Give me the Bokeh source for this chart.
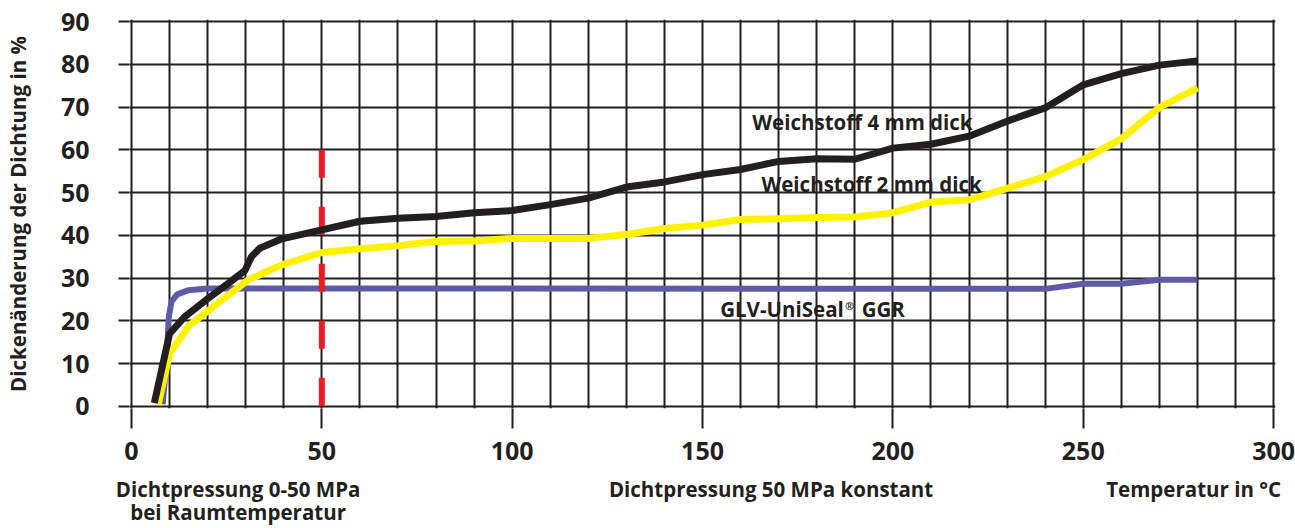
from bokeh.plotting import figure
from bokeh.models import Range1d, FixedTicker, SingleIntervalTicker, LinearAxis, Grid
from bokeh.core.properties import value
from bokeh.embed import file_html
from bokeh.resources import INLINE

# ---- data ----
black_x = [6, 10, 14, 20, 25, 29.8, 31.5, 33.7, 39.5, 50, 60, 70, 80, 90, 100, 110, 120, 130, 140, 150,
           160, 170, 180, 190, 200, 210, 220, 230, 240, 250, 260, 270, 280]
black_y = [0.8, 17, 21, 25.2, 28.5, 31.8, 35, 37, 39.2, 41.3, 43.3, 44, 44.4, 45.3, 45.8, 47.2, 48.7, 51.3, 52.5, 54.2,
           55.4, 57.3, 57.9, 57.8, 60.4, 61.3, 63.2, 66.7, 69.8, 75.2, 77.8, 79.8, 80.8]

yellow_x = [7, 10, 15, 22.7, 30.7, 39.5, 50, 60, 70, 80, 90, 100, 120, 130, 140, 150, 160, 170, 180, 190,
            200, 210, 220, 230, 240, 250, 260, 270, 280]
yellow_y = [0.4, 12.3, 18.8, 24.2, 29.6, 33.1, 36, 36.9, 37.6, 38.6, 38.7, 39.3, 39.3, 40.2, 41.6, 42.4, 43.7, 43.9, 44.2, 44.3,
            45.3, 47.8, 48.3, 51, 53.7, 57.7, 62.6, 69.9, 74.5]

blue_x = [8.2, 9.3, 9.8, 10.5, 12, 15, 20, 240, 250, 260, 270, 280]
blue_y = [0.5, 12, 21, 24.5, 26.2, 27.2, 27.6, 27.5, 28.7, 28.7, 29.6, 29.6]

red_x = [50, 50]
red_y = [60, 0]

x_ticks = [0, 50, 100, 150, 200, 250, 300]
y_ticks = [0, 10, 20, 30, 40, 50, 60, 70, 80, 90]

bottom_pos = [28, 168, 279]
bottom_line1 = ["Dichtpressung 0-50 MPa", "Dichtpressung 50 MPa konstant", "Temperatur in °C"]
bottom_line2 = ["bei Raumtemperatur"]

y_title = "Dickenänderung der Dichtung in %"

DARK = "#231f20"
FONT = "Open Sans"
TXT = "20.5px"

p = figure(width=1295, height=528,
           x_range=Range1d(-0.52, 300.5), y_range=Range1d(-0.47, 90.47),
           x_axis_type=None, y_axis_type=None,
           output_backend="svg", toolbar_location=None,
           min_border_left=128, min_border_right=20, min_border_top=19, min_border_bottom=118)
p.outline_line_color = None
p.background_fill_color = "white"
p.border_fill_color = "white"

# grids
xg = Grid(dimension=0, ticker=SingleIntervalTicker(interval=10), grid_line_color=DARK, grid_line_width=2)
yg = Grid(dimension=1, ticker=SingleIntervalTicker(interval=10), grid_line_color=DARK, grid_line_width=2)
p.add_layout(xg)
p.add_layout(yg)

# y axis
ya = LinearAxis(ticker=FixedTicker(ticks=y_ticks), axis_line_color=None,
                major_tick_out=11, major_tick_in=0, major_tick_line_color=DARK, major_tick_line_width=2,
                minor_tick_line_color=None, major_label_standoff=29,
                major_label_text_font=FONT, major_label_text_font_style="bold",
                major_label_text_font_size="25px", major_label_text_color=DARK,
                axis_label=y_title, axis_label_text_font=FONT, axis_label_text_font_style="bold",
                axis_label_text_font_size=TXT, axis_label_text_color=DARK, axis_label_standoff=26)
p.add_layout(ya, "left")

# x axis
xa = LinearAxis(ticker=FixedTicker(ticks=x_ticks), axis_line_color=None,
                major_tick_out=20, major_tick_in=0, major_tick_line_color=DARK, major_tick_line_width=2,
                minor_tick_line_color=None, major_label_standoff=13,
                major_label_text_font=FONT, major_label_text_font_style="bold",
                major_label_text_font_size="25px", major_label_text_color=DARK)
p.add_layout(xa, "below")

def text_axis(ticks, labels, standoff):
    ax = LinearAxis(ticker=FixedTicker(ticks=ticks), axis_line_color=None,
                    major_tick_line_color=None, minor_tick_line_color=None,
                    major_tick_out=0, major_tick_in=0, major_label_standoff=standoff,
                    major_label_overrides={t: l for t, l in zip(ticks, labels)},
                    major_label_text_font=FONT, major_label_text_font_style="bold",
                    major_label_text_font_size=TXT, major_label_text_color=DARK)
    p.add_layout(ax, "below")
    return ax

text_axis(bottom_pos, bottom_line1, 12)
text_axis(bottom_pos[:1], bottom_line2, -8)

# series
p.line(blue_x, blue_y, line_color="#5f5aa8", line_width=6, line_join="round", line_cap="butt")
p.line(yellow_x, yellow_y, line_color="#fff200", line_width=7, line_join="round", line_cap="butt")
p.line(red_x, red_y, line_color="#ed1c24", line_width=6, line_dash="28 29")
p.line(black_x, black_y, line_color=DARK, line_width=7, line_join="round", line_cap="butt")

# annotations
common = dict(text_font=value(FONT), text_font_style="bold", text_color=DARK, text_baseline="middle")
p.text(x=[192.0, 194.4], y=[66.5, 51.9], text=["Weichstoff 4 mm dick", "Weichstoff 2 mm dick"],
       text_align="center", text_font_size=TXT, **common)
p.text(x=[187.1], y=[22.7], text=["GLV-UniSeal"], text_align="right", text_font_size=TXT, **common)
p.text(x=[187.4], y=[23.5], text=["®"], text_align="left", text_font_size="11px", **common)
p.text(x=[191.8], y=[22.7], text=["GGR"], text_align="left", text_font_size=TXT, **common)

open("out.html", "w").write(file_html(p, INLINE))
